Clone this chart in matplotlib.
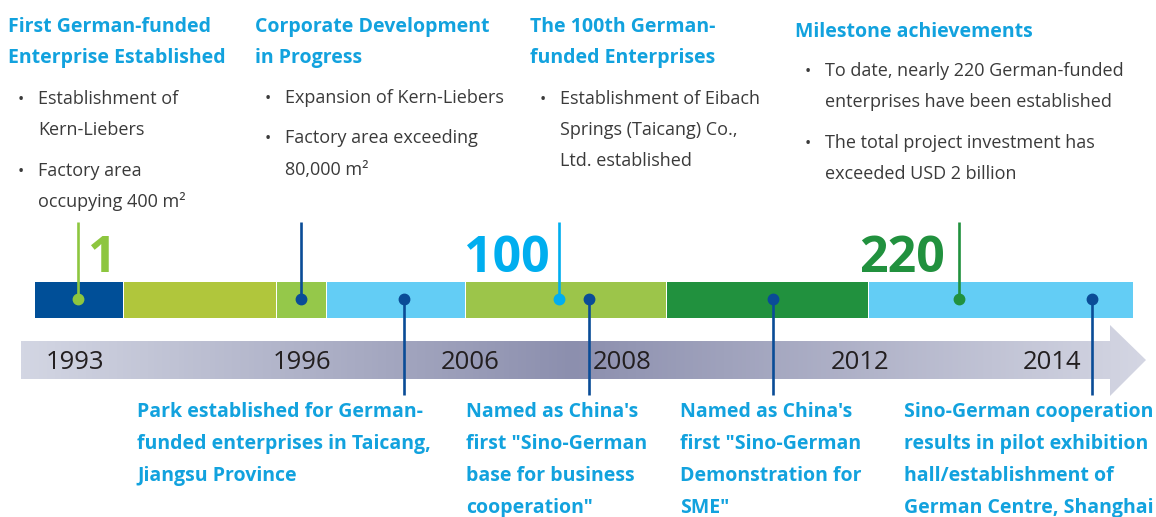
import numpy as np
import matplotlib
matplotlib.use('Agg')
import matplotlib.pyplot as plt
from matplotlib.patches import Rectangle, Polygon
from matplotlib.colors import LinearSegmentedColormap

plt.rcParams['font.family'] = ['Open Sans', 'DejaVu Sans']

# 数据
years = ['1993', '1996', '2006', '2008', '2012', '2014']
milestones = [1, 100, 220]
headings = [
    ['First German-funded', 'Enterprise Established'],
    ['Corporate Development', 'in Progress'],
    ['The 100th German-', 'funded Enterprises'],
    ['Milestone achievements'],
]
bullets = [
    [['Establishment of', 'Kern-Liebers'], ['Factory area', 'occupying 400 m\u00b2']],
    [['Expansion of Kern-Liebers'], ['Factory area exceeding', '80,000 m\u00b2']],
    [['Establishment of Eibach', 'Springs (Taicang) Co.,', 'Ltd. established']],
    [['To date, nearly 220 German-funded', 'enterprises have been established'],
     ['The total project investment has', 'exceeded USD 2 billion']],
]
captions = [
    ['Park established for German-', 'funded enterprises in Taicang,', 'Jiangsu Province'],
    ['Named as China\'s', 'first "Sino-German', 'base for business', 'cooperation"'],
    ['Named as China\'s', 'first "Sino-German', 'Demonstration for', 'SME"'],
    ['Sino-German cooperation', 'results in pilot exhibition', 'hall/establishment of', 'German Centre, Shanghai'],
]

# 布局 (像素坐标)
W, H = 1156, 517
seg_edges = [35, 123, 276, 326, 465, 666, 868, 1133]
seg_colors = ['#004f98', '#b0c63c', '#95c84a', '#63cdf5', '#9cc54a', '#21913e', '#63cdf5']
year_x = [75, 302, 470, 622, 860, 1052]
blue_txt = '#12a2de'
grey_txt = '#3a3a3a'
dark_pin = '#0a4c97'

fig = plt.figure(figsize=(W / 100, H / 100), dpi=100)
ax = fig.add_axes([0, 0, 1, 1])
ax.set_xlim(0, W)
ax.set_ylim(H, 0)
ax.axis('off')

# 时间轴箭头 (渐变)
arrow = Polygon([(21, 341), (1110, 341), (1110, 325), (1146, 360), (1110, 396),
                 (1110, 379), (21, 379)], closed=True, facecolor='none', edgecolor='none')
ax.add_patch(arrow)
cmap = LinearSegmentedColormap.from_list('arr', [(0, '#d3d6e3'), (0.49, '#8c8fae'), (1, '#d4d6e3')])
grad = np.linspace(0, 1, 512).reshape(1, -1)
im = ax.imshow(grad, cmap=cmap, extent=[21, 1146, 396, 325], aspect='auto', zorder=1)
im.set_clip_path(arrow)

for yr, x in zip(years, year_x):
    ax.text(x, 369, yr, fontsize=18.5, color='#231f20', ha='center', va='baseline', zorder=3)

# 彩色分段条
for i, c in enumerate(seg_colors):
    gap = 1 if i else 0
    ax.add_patch(Rectangle((seg_edges[i] + gap, 282), seg_edges[i + 1] - seg_edges[i] - gap, 36,
                           facecolor=c, edgecolor='none', zorder=2))

# 上方里程碑
up_pins = [(78, '#8dc63f'), (301, dark_pin), (559, '#00aeef'), (959, '#21913e')]
for x, c in up_pins:
    ax.plot([x, x], [222, 299], color=c, lw=1.9, zorder=4, solid_capstyle='butt')
    ax.plot(x, 299, 'o', color=c, ms=7.5, zorder=5)

ax.text(88, 272, str(milestones[0]), fontsize=36, fontweight='bold', color='#8dc63f', ha='left', va='baseline')
ax.text(550, 272, str(milestones[1]), fontsize=36, fontweight='bold', color='#00aeef', ha='right', va='baseline')
ax.text(945, 272, str(milestones[2]), fontsize=36, fontweight='bold', color='#21913e', ha='right', va='baseline')

# 下方里程碑
down_x = [404, 589, 773, 1092]
for x in down_x:
    ax.plot([x, x], [299, 395], color=dark_pin, lw=1.9, zorder=4, solid_capstyle='butt')
    ax.plot(x, 299, 'o', color=dark_pin, ms=7.5, zorder=5)

# 顶部文字
col_x = [8, 255, 530, 795]
head_y = [[32, 63], [32, 63], [32, 63], [37]]
bullet_y = [[[104, 135], [176, 207]], [[103], [143, 175]], [[104, 135, 166]], [[76, 107], [148, 179]]]
for k in range(4):
    for line, y in zip(headings[k], head_y[k]):
        ax.text(col_x[k], y, line, fontsize=14, fontweight='bold', color=blue_txt, ha='left', va='baseline')
    for item, ys in zip(bullets[k], bullet_y[k]):
        ax.text(col_x[k] + 10, ys[0], '\u2022', fontsize=12, color=grey_txt, ha='left', va='baseline')
        for line, y in zip(item, ys):
            ax.text(col_x[k] + 30, y, line, fontsize=13, color=grey_txt, ha='left', va='baseline')

# 底部说明
cap_x = [137, 466, 680, 904]
for k in range(4):
    for j, line in enumerate(captions[k]):
        ax.text(cap_x[k], 417 + 32 * j, line, fontsize=14, fontweight='bold', color=blue_txt,
                ha='left', va='baseline')

fig.savefig('out.png', dpi=100)
